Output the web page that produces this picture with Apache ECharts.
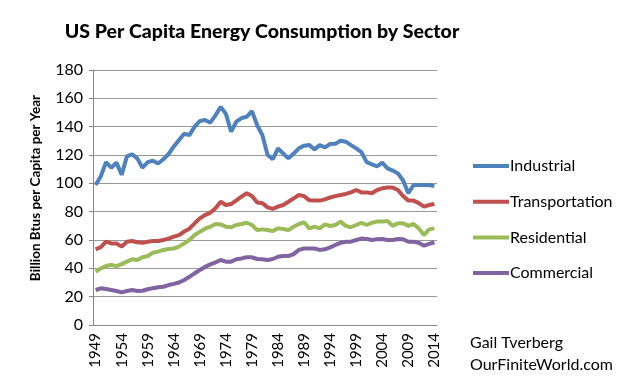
<!DOCTYPE html>
<html><head><meta charset="utf-8">
<script src="https://cdn.jsdelivr.net/npm/echarts@6/dist/echarts.min.js"></script>
<style>html,body{margin:0;padding:0;background:#fff}#c{width:640px;height:383px}</style>
</head><body><div id="c"></div>
<script>
const years = [];
for (let y = 1949; y <= 2014; y++) years.push(String(y));
const industrial = [98.8,105,115,111,114.6,106,119,120.5,117.6,111,115,116,114,117,120.7,126,130.6,135,134,140,144,144.7,142.8,148,154,149,136.5,143.5,146,147,151,141,134,120,117,124.7,121,117.6,121,124.7,126.6,127,124,127,125.4,127.8,128,130,129.4,127,124.7,122,115,113.4,112,114.6,110.6,109,107,102,93,98.8,98.8,98.8,98.8,98];
const transportation = [53.4,55,58.8,57.6,57.6,55.3,58.8,59.3,58.4,58,58.8,59.3,59.3,60,61,62.4,63.5,66,68,71.8,75.3,77.6,79.3,82.4,87,84.7,85.4,88,90.6,93,91,86.4,86,83,82,83.5,84.7,87,89.4,91.8,91,88,87.8,87.8,88.7,90,91,91.8,92.5,93.6,95.3,93.6,93.6,93,95.3,96.5,97,97,95.3,91,87.8,87.8,86,83.5,84.7,85.4];
const residential = [37.6,40,41.6,42.3,41.6,43,44.7,46.4,45.9,47.8,48.7,51,51.8,53,53.6,54,55.3,57.6,60,63.5,65.9,68,69.4,71.3,71,69.4,69,70.6,71.3,72.2,70.6,67,67.5,67,66.4,68.2,67.8,67,69.4,71.3,72.5,68.2,69.4,68.2,71,69.9,70.6,73,70,69,70.6,72.2,70.6,72.2,73,73,73.4,70,71.8,71.8,70,71.3,68.2,63.5,67.5,68.2];
const commercial = [24.7,25.9,25.4,24.7,24,23,24,24.7,24,24.2,25.2,26,26.6,27,28.2,29,30,31.8,34,36.5,38.8,41,42.8,44.2,45.9,44.7,44.7,46.4,47,47.8,47.8,46.6,46.4,45.9,46.6,48.2,48.7,48.7,50,53,54,54,54,53,53.4,54.8,56.5,58,58.8,58.8,60,61,60.7,60,60.5,60.7,60,60,60.7,60.5,58.8,58.8,58,56,57.2,58.4];
const seriesNames = ['Industrial','Transportation','Residential','Commercial'];
const colors = ['#4F81BD','#C0504D','#9BBB59','#8064A2'];
const data = [industrial, transportation, residential, commercial];
const FONT = 'Lato';

const chart = echarts.init(document.getElementById('c'));
chart.setOption({
  animation: false,
  backgroundColor: '#fff',
  title: {
    text: 'US Per Capita Energy Consumption by Sector',
    left: 257, top: 17, textAlign: 'center',
    textStyle: {fontFamily: FONT, fontWeight: 900, fontSize: 19.5, color: '#000'}
  },
  legend: {
    orient: 'vertical', left: 468, top: 153, itemGap: 19.7,
    icon: 'rect', itemWidth: 36, itemHeight: 4,
    data: seriesNames,
    textStyle: {fontFamily: FONT, fontSize: 16, color: '#000', padding: [0,0,0,-4]}
  },
  graphic: [
    {type: 'text', left: 470, top: 335, style: {text: 'Gail Tverberg', font: '16px Lato', fill: '#000'}},
    {type: 'text', left: 470, top: 357, style: {text: 'OurFiniteWorld.com', font: '16px Lato', fill: '#000'}},
    {type: 'text', x: 36, y: 188, rotation: Math.PI / 2,
     style: {text: 'Billion Btus per Capita per Year', font: 'bold 13.5px Lato', fill: '#000', align: 'center', verticalAlign: 'middle'}}
  ],
  grid: {left: 93, right: 203, top: 70, bottom: 58},
  xAxis: {
    type: 'category', data: years, boundaryGap: true,
    axisLine: {lineStyle: {color: '#888', width: 1}},
    axisTick: {interval: 0, length: 5, lineStyle: {color: '#888'}},
    axisLabel: {interval: 4, rotate: 90, fontFamily: FONT, fontSize: 15, color: '#000', margin: 8}
  },
  yAxis: {
    type: 'value', min: 0, max: 180, interval: 20,
    axisLine: {show: true, lineStyle: {color: '#888'}},
    axisTick: {show: true, length: 4, lineStyle: {color: '#888'}},
    axisLabel: {fontFamily: FONT, fontSize: 16, color: '#000', margin: 10},
    splitLine: {lineStyle: {color: '#999', width: 1}}
  },
  series: seriesNames.map((n, i) => ({
    name: n, type: 'line', data: data[i], showSymbol: false, symbol: 'none',
    lineStyle: {color: colors[i], width: 4}, itemStyle: {color: colors[i]}
  }))
});
</script></body></html>
